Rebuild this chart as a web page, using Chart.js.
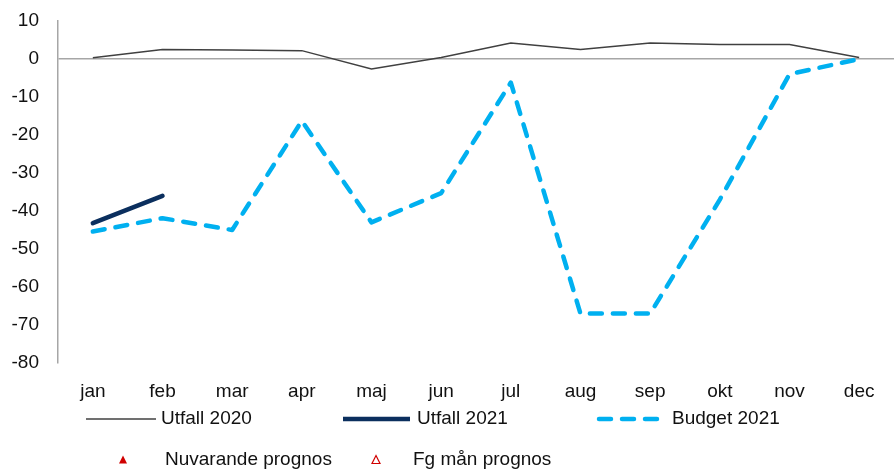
<!DOCTYPE html>
<html>
<head>
<meta charset="utf-8">
<script src="https://cdn.jsdelivr.net/npm/chart.js@4"></script>
<style>
  html, body { margin: 0; padding: 0; background: #fff; }
  #wrap { width: 894px; height: 470px; }
</style>
</head>
<body>
<div id="wrap"><canvas id="chart" width="894" height="470"></canvas></div>
<script>
// data
var months = ['jan', 'feb', 'mar', 'apr', 'maj', 'jun', 'jul', 'aug', 'sep', 'okt', 'nov', 'dec'];
var utfall2020 = [0.3, 2.5, 2.4, 2.2, -2.6, 0.4, 4.2, 2.5, 4.2, 3.8, 3.8, 0.4];
var utfall2021 = [-43.2, -36, null, null, null, null, null, null, null, null, null, null];
var budget2021 = [-45.4, -41.9, -45, -16.3, -43, -35.3, -6.2, -67, -67, -37, -4, 0];
var yTicks = [10, 0, -10, -20, -30, -40, -50, -60, -70, -80];
var legendNames = ['Utfall 2020', 'Utfall 2021', 'Budget 2021', 'Nuvarande prognos', 'Fg mån prognos'];

var FONT = '"Liberation Sans", Arial, sans-serif';
var TEXT = '#111';
var AXIS = '#a6a6a6';
var C2020 = '#404040';
var C2021 = '#0b2f5e';
var CBUD = '#00b0f0';
var CRED = '#d00000';

// egen legend, ritad direkt på canvas
var legendPlugin = {
  id: 'customLegend',
  afterDraw: function (chart) {
    var ctx = chart.ctx;
    ctx.save();
    ctx.font = '19px ' + FONT;
    ctx.fillStyle = TEXT;
    ctx.textBaseline = 'middle';
    ctx.textAlign = 'left';
    var y1 = 419, y2 = 460;

    // Utfall 2020
    ctx.strokeStyle = C2020;
    ctx.lineWidth = 1.5;
    ctx.beginPath(); ctx.moveTo(86, y1); ctx.lineTo(156, y1); ctx.stroke();
    ctx.fillText(legendNames[0], 161, y1);

    // Utfall 2021
    ctx.strokeStyle = C2021;
    ctx.lineWidth = 4.5;
    ctx.beginPath(); ctx.moveTo(343, y1); ctx.lineTo(410, y1); ctx.stroke();
    ctx.fillText(legendNames[1], 417, y1);

    // Budget 2021
    ctx.strokeStyle = CBUD;
    ctx.lineWidth = 4.5;
    ctx.lineCap = 'round';
    ctx.setLineDash([12, 11]);
    ctx.beginPath(); ctx.moveTo(599, y1); ctx.lineTo(660, y1); ctx.stroke();
    ctx.setLineDash([]);
    ctx.lineCap = 'butt';
    ctx.fillText(legendNames[2], 672, y1);

    // Nuvarande prognos (fylld triangel)
    ctx.fillStyle = CRED;
    ctx.beginPath();
    ctx.moveTo(123, y2 - 4.5); ctx.lineTo(127, y2 + 3.5); ctx.lineTo(119, y2 + 3.5); ctx.closePath();
    ctx.fill();
    ctx.fillStyle = TEXT;
    ctx.fillText(legendNames[3], 165, y2);

    // Fg mån prognos (tom triangel)
    ctx.strokeStyle = CRED;
    ctx.lineWidth = 1.2;
    ctx.beginPath();
    ctx.moveTo(376, y2 - 4.5); ctx.lineTo(380, y2 + 3.5); ctx.lineTo(372, y2 + 3.5); ctx.closePath();
    ctx.stroke();
    ctx.fillText(legendNames[4], 413, y2);
    ctx.restore();
  }
};

function createChart() {
  var ctx = document.getElementById('chart').getContext('2d');
  return new Chart(ctx, {
    type: 'line',
    data: {
      labels: months,
      datasets: [
        {
          label: legendNames[0],
          data: utfall2020,
          borderColor: C2020,
          borderWidth: 1.5,
          pointRadius: 0,
          tension: 0,
          order: 3
        },
        {
          label: legendNames[1],
          data: utfall2021,
          borderColor: C2021,
          borderWidth: 4.5,
          borderCapStyle: 'round',
          pointRadius: 0,
          tension: 0,
          spanGaps: false,
          order: 1
        },
        {
          label: legendNames[2],
          data: budget2021,
          borderColor: CBUD,
          borderWidth: 4.5,
          borderDash: [12, 11],
          borderCapStyle: 'round',
          borderJoinStyle: 'round',
          pointRadius: 0,
          tension: 0,
          order: 2
        }
      ]
    },
    options: {
      responsive: false,
      animation: false,
      layout: { padding: { top: 21, right: 0, left: 0, bottom: 0 } },
      plugins: {
        legend: { display: false },
        tooltip: { enabled: false }
      },
      scales: {
        x: {
          offset: true,
          grid: { display: false, drawTicks: false },
          border: { display: false },
          ticks: {
            color: TEXT,
            font: { family: FONT, size: 19 },
            padding: 17,
            maxRotation: 0,
            autoSkip: false
          },
          afterFit: function (s) {
            s.height = 107;
            s.paddingLeft = 0;
            s.paddingRight = 0;
          }
        },
        y: {
          min: -80,
          max: 10,
          afterBuildTicks: function (s) {
            s.ticks = yTicks.map(function (v) { return { value: v }; });
          },
          grid: {
            drawTicks: false,
            color: function (c) { return c.tick && c.tick.value === 0 ? AXIS : 'rgba(0,0,0,0)'; },
            lineWidth: 1.5
          },
          border: { display: true, color: AXIS, width: 1.5 },
          ticks: {
            color: TEXT,
            font: { family: FONT, size: 19 },
            padding: 19
          },
          afterFit: function (s) {
            s.width = 58;
            s.paddingTop = 0;
            s.paddingBottom = 0;
          }
        }
      }
    },
    plugins: [legendPlugin]
  });
}

var chart = createChart();
</script>
</body>
</html>
